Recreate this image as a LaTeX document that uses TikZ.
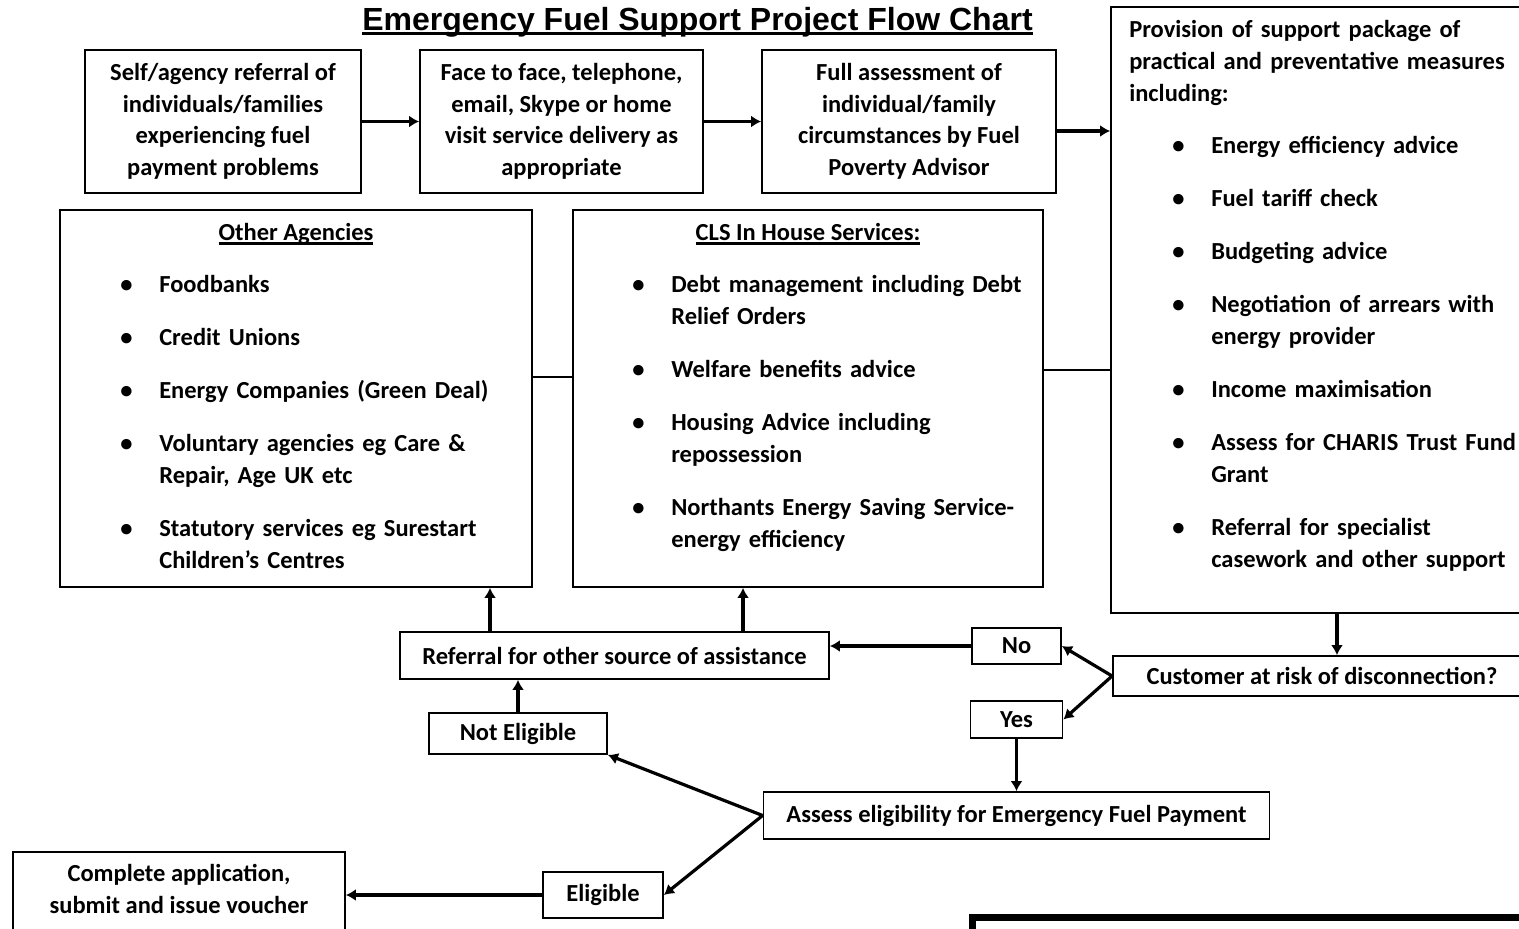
\documentclass[tikz,border=0pt]{standalone}
\usepackage{fontspec}
\setmainfont{Carlito}
\newfontfamily\TitleFont{Liberation Sans}
\usetikzlibrary{arrows.meta}
\newcommand{\Bul}{\makebox[39pt][l]{\textbullet}}
\newcommand{\Ind}{\hspace*{39pt}}
\newcommand{\Uline}[2][2.2pt]{\leavevmode\setbox0\hbox{#2}\rlap{\rule[-4.5pt]{\wd0}{#1}}\box0}

\begin{document}
\begin{tikzpicture}[x=1pt,y=-1pt]
			\tikzstyle{boxs} = [draw, line width=1.8pt, align=center, inner sep=0pt,
				font=\bfseries\fontsize{24.5}{31.5}\selectfont]
			\tikzstyle{head} = [anchor=base, inner sep=0pt, font=\bfseries\fontsize{24.5}{31.5}\selectfont]
			\tikzstyle{listtext} = [anchor=base west, inner sep=0pt, text width=480pt, align=left,
				font=\bfseries\fontsize{24.5}{32}\selectfont]
			\tikzstyle{line} = [draw, line width=3.2pt, -{Latex[length=10pt,width=12pt]}]
			\tikzstyle{link} = [draw, line width=1.8pt]

			\useasboundingbox (0,0) rectangle (1519,929);

			\node(Title)[anchor=base, inner sep=0pt, font=\TitleFont\bfseries\fontsize{32}{36}\selectfont] at (697.5,30)
				{\Uline[3pt]{Emergency Fuel Support Project Flow Chart}};

			\tikzset{node distance = 338.5pt}
			\node(Delivery)[boxs, minimum width=283pt, minimum height=143pt] at (561.5,121.5)
				{Face to face, telephone,\\email, Skype or home\\visit service delivery as\\appropriate};
			\node(SelfRef)[boxs, minimum width=276pt, minimum height=143pt, left of = Delivery]
				{Self/agency referral of\\individuals/families\\experiencing fuel\\payment problems} edge[line] (Delivery.west);
			\tikzset{node distance = 347.5pt}
			\node(Assessment)[boxs, minimum width=294pt, minimum height=143pt, right of = Delivery]
				{Full assessment of\\individual/family\\circumstances by Fuel\\Poverty Advisor};
			\draw[line] (Delivery) -- (Assessment);

			\node(Provision)[boxs, minimum width=414pt, minimum height=606pt] at (1318,310) {};
			\node(ProvisionList)[listtext] at ([xshift=19pt,yshift=-31pt]Provision.north west)
				{Provision of support package of\\practical and preventative measures\\including:\\[20pt]
				\hspace*{43pt}\Bul Energy efficiency advice\\[21pt]
				\hspace*{43pt}\Bul Fuel tariff check\\[21pt]
				\hspace*{43pt}\Bul Budgeting advice\\[21pt]
				\hspace*{43pt}\Bul Negotiation of arrears with\\
				\hspace*{43pt}\Ind energy provider\\[21pt]
				\hspace*{43pt}\Bul Income maximisation\\[21pt]
				\hspace*{43pt}\Bul Assess for CHARIS Trust Fund\\
				\hspace*{43pt}\Ind Grant\\[21pt]
				\hspace*{43pt}\Bul Referral for specialist\\
				\hspace*{43pt}\Ind casework and other support};
			\coordinate(ProvisionIn) at ([yshift=-9.5pt]Assessment.east);
			\draw[line] (ProvisionIn) -- (ProvisionIn -| Provision.west);

			% services boxes
			\tikzset{node distance = 512pt}
			\node(Agencies)[boxs, minimum width=472pt, minimum height=377pt] at (296,398.5) {};
			\node(InHouse)[boxs, minimum width=470pt, minimum height=377pt, right of = Agencies] {};
			\node(AgenciesHead)[head] at ([yshift=-31pt]Agencies.north) {\Uline{Other Agencies}};
			\node(AgenciesList)[listtext] at ([xshift=61pt,yshift=-83pt]Agencies.north west)
				{\Bul Foodbanks\\[21pt]
				\Bul Credit Unions\\[21pt]
				\Bul Energy Companies (Green Deal)\\[21pt]
				\Bul Voluntary agencies eg Care \&\\
				\Ind Repair, Age UK etc\\[21pt]
				\Bul Statutory services eg Surestart\\
				\Ind Children’s Centres};
			\node(InHouseHead)[head] at ([yshift=-31pt]InHouse.north) {\Uline{CLS In House Services:}};
			\node(InHouseList)[listtext] at ([xshift=60pt,yshift=-83pt]InHouse.north west)
				{\Bul Debt management including Debt\\
				\Ind Relief Orders\\[21pt]
				\Bul Welfare benefits advice\\[21pt]
				\Bul Housing Advice including\\
				\Ind repossession\\[21pt]
				\Bul Northants Energy Saving Service-\\
				\Ind energy efficiency};
			\draw[link] ([yshift=21.5pt]Agencies.east) -- ([yshift=21.5pt]InHouse.west);
			\coordinate(ProvisionLink) at ([yshift=28.5pt]InHouse.east);
			\draw[link] (ProvisionLink) -- (ProvisionLink -| Provision.west);

			% decision part
			\node(Risk)[boxs, minimum width=418pt, minimum height=40pt] at (1322,676) {Customer at risk of disconnection?};
			\coordinate(RiskIn) at ([xshift=15pt]Risk.north);
			\draw[line] (RiskIn |- Provision.south) -- (RiskIn);

			\node(No)[boxs, minimum width=89pt, minimum height=36pt] at (1016.5,646) {No};
			\tikzset{node distance = 73.5pt}
			\node(Yes)[boxs, minimum width=92pt, minimum height=37pt, below of = No] {Yes};
			\tikzset{node distance = 96pt}
			\node(Assess)[boxs, minimum width=506pt, minimum height=47pt, below of = Yes]
				{Assess eligibility for Emergency Fuel Payment};
			\draw[line] (Risk.west) -- (No.east);
			\draw[line] (Risk.west) -- (Yes.east);
			\draw[line] (Yes) -- (Assess);

			\node(Referral)[boxs, minimum width=429pt, minimum height=47pt] at (614.5,655.5)
				{Referral for other source of assistance};
			\draw[line] (No.west) -- (No.west -| Referral.east);
			\coordinate(ToAgencies) at ([xshift=-124.5pt]Referral.north);
			\coordinate(ToInHouse) at ([xshift=128.5pt]Referral.north);
			\draw[line] (ToAgencies) -- (ToAgencies |- Agencies.south);
			\draw[line] (ToInHouse) -- (ToInHouse |- InHouse.south);

			\node(NotEligible)[boxs, minimum width=178pt, minimum height=41pt] at (518,733.5) {Not Eligible};
			\draw[line] (NotEligible) -- (NotEligible |- Referral.south);

			\node(Eligible)[boxs, minimum width=120pt, minimum height=46pt] at (603,895) {Eligible};
			\tikzset{node distance = 424pt}
			\node(Complete)[boxs, minimum width=332pt, minimum height=86pt, text depth=12pt, left of = Eligible]
				{Complete application,\\submit and issue voucher};
			\draw[line] (Eligible) -- (Complete);
			\draw[line] (Assess.west) -- (NotEligible.south east);
			\draw[line] (Assess.west) -- (Eligible.east);

			\draw[line width=7pt] (972,917.5) rectangle (1545,990);
		\end{tikzpicture}
\end{document}
